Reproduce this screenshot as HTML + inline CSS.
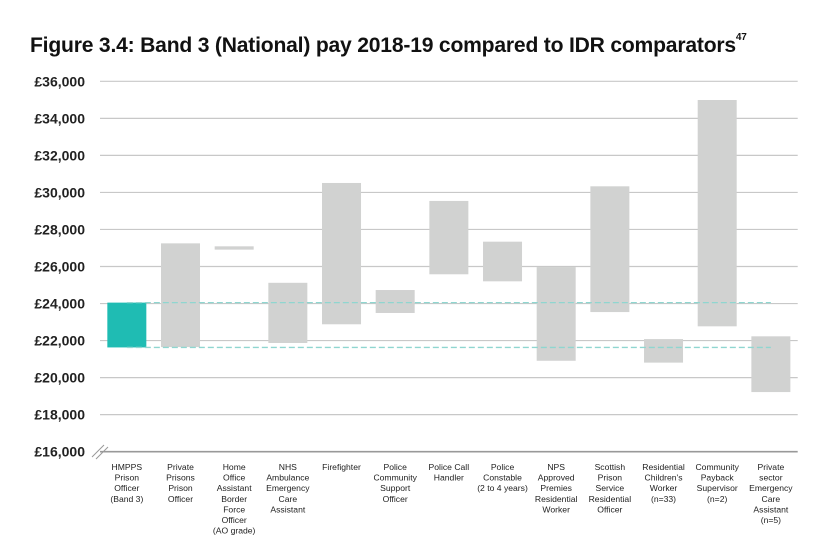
<!DOCTYPE html>
<html><head><meta charset="utf-8"><style>
body{margin:0;background:#fff;width:831px;height:548px;overflow:hidden;font-family:"Liberation Sans",sans-serif}
h1{position:absolute;left:30px;top:34px;margin:0;font-size:21.1px;font-weight:bold;color:#111;letter-spacing:-0.2px}
h1 sup{font-size:10px;vertical-align:top;position:relative;top:-2px}
</style></head><body>
<h1>Figure 3.4: Band 3 (National) pay 2018-19 compared to IDR comparators<sup>47</sup></h1>
<svg id="c" width="831" height="548" style="position:absolute;left:0;top:0"></svg>
<script>
const categories=[["HMPPS","Prison","Officer","(Band 3)"],["Private","Prisons","Prison","Officer"],["Home","Office","Assistant","Border","Force","Officer","(AO grade)"],["NHS","Ambulance","Emergency","Care","Assistant"],["Firefighter"],["Police","Community","Support","Officer"],["Police Call","Handler"],["Police","Constable","(2 to 4 years)"],["NPS","Approved","Premies","Residential","Worker"],["Scottish","Prison","Service","Residential","Officer"],["Residential","Children's","Worker","(n=33)"],["Community","Payback","Supervisor","(n=2)"],["Private","sector","Emergency","Care","Assistant","(n=5)"]];
const lowValues=[21630,21650,26910,21870,22880,23490,25580,25200,20910,23540,20810,22770,19220];
const highValues=[24050,27250,27090,25120,30510,24730,29540,27340,25970,30330,22080,34990,22230];
const refLines=[24050,21630];
const ticks=[16000,18000,20000,22000,24000,26000,28000,30000,32000,34000,36000];
const tickLabels=["£16,000","£18,000","£20,000","£22,000","£24,000","£26,000","£28,000","£30,000","£32,000","£34,000","£36,000"];

const svg=document.getElementById('c');const NS='http://www.w3.org/2000/svg';
const x0=100,x1=797.7,yMin=16000,yMax=36000,yTop=81.3,yBot=451.7;
const band=(x1-x0)/categories.length;
const y=v=>yBot-(v-yMin)/(yMax-yMin)*(yBot-yTop);
const xc=i=>x0+band*(i+0.5);
function mk(t,a){const e=document.createElementNS(NS,t);for(const k in a)e.setAttribute(k,a[k]);svg.appendChild(e);return e;}
ticks.forEach((t,i)=>{
  if(i>0){const g=mk('line',{x1:x0,x2:x1,y1:y(t),y2:y(t),stroke:'#c8c8c8','stroke-width':1.2});
  
  }
  const l=mk('text',{x:85,y:y(t)+5,'text-anchor':'end','font-size':14,'font-weight':'bold',fill:'#222'});
  l.textContent=tickLabels[i];
  
  
});
const ax=mk('line',{x1:x0,x2:x1,y1:yBot,y2:yBot,stroke:'#999','stroke-width':1.6});


const br=mk('path',{d:'M92,457 L104,445 M96,459 L108,447',stroke:'#999','stroke-width':1,fill:'none'});


categories.forEach((c,i)=>{
  const r=mk('rect',{x:xc(i)-19.5,width:39,y:y(highValues[i]),height:y(lowValues[i])-y(highValues[i]),fill:i==0?'#1fbcb3':'#d1d2d1'});
  
  
  const t=mk('text',{x:xc(i),y:470,'text-anchor':'middle','font-size':8.6,fill:'#222'});
  
  
  c.forEach((s,j)=>{const ts=document.createElementNS(NS,'tspan');ts.setAttribute('x',xc(i));ts.setAttribute('dy',j?10.6:0);ts.textContent=s;t.appendChild(ts);});
});
refLines.forEach(v=>{
  const d=mk('line',{x1:xc(0),x2:xc(12),y1:y(v),y2:y(v),stroke:'#8fd6d0','stroke-width':1.3,'stroke-dasharray':'6,3'});
  
  
});
</script>
</body></html>
